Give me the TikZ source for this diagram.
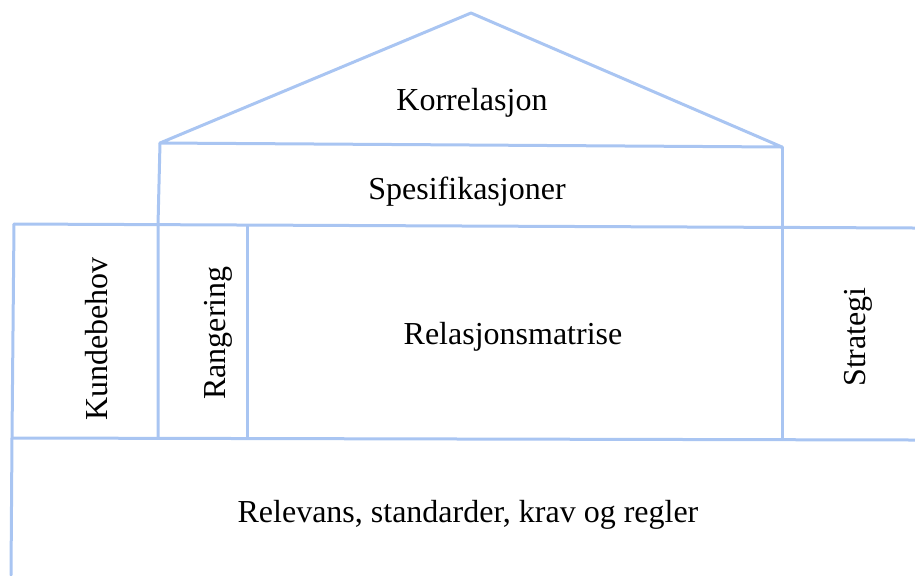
\documentclass[tikz,border=0pt]{standalone}
\usepackage{fontspec}
\setmainfont{Liberation Serif}
\usepackage{tikz}
\usetikzlibrary{positioning, calc}
\definecolor{hqLine}{HTML}{A9C5F2}
\tikzset{
  wall/.style={draw=hqLine, line width=1.5pt, line cap=round, line join=round},
  label/.style={font=\fontsize{16}{19}\selectfont, inner sep=0pt, text=black},
  sidelabel/.style={label, rotate=90}
}

\begin{document}
\begin{tikzpicture}[x=0.5pt, y=-0.5pt]
  \useasboundingbox (0,0) rectangle (915,575);
  % corner points of the house
  \coordinate (apex) at (471,13);
  \coordinate (roofL) at (160,143);
  \coordinate (roofR) at (782,147);
  \coordinate (midL) at (158,225);
  \coordinate (outL) at (14,224);
  \coordinate (outR) at (915,228);
  \coordinate (rankT) at (247,226);
  \coordinate (rankB) at (247,438);
  \coordinate (botL) at (12,438);
  \coordinate (botR) at (915,440);
  \coordinate (baseL) at (11,575);
  \coordinate (wallLB) at (158,438);
  \coordinate (wallRB) at (782,439);
  % roof and walls
  \draw[wall] (roofL) -- (apex) -- (roofR) -- cycle;
  \draw[wall] (roofL) -- (midL) -- (wallLB);
  \draw[wall] (roofR) -- (wallRB);
  \draw[wall] (outL) -- (outR);
  \draw[wall] (outL) -- (botL) -- (baseL);
  \draw[wall] (botL) -- (botR);
  \draw[wall] (rankT) -- (rankB);
  % texts
  \node[label] (corr) at (472,103) {Korrelasjon};
  \node[label] (spec) at (467,192) {Spesifikasjoner};
  \node[sidelabel] (needs) at (97,339) {Kundebehov};
  \node[sidelabel] (rank) at (218,333) {Rangering};
  \node[label] (matrix) at (513,337) {Relasjonsmatrise};
  \node[sidelabel] (strat) at (858,337) {Strategi};
  \node[label] (rules) at (468,515) {Relevans, standarder, krav og regler};
\end{tikzpicture}
\end{document}
